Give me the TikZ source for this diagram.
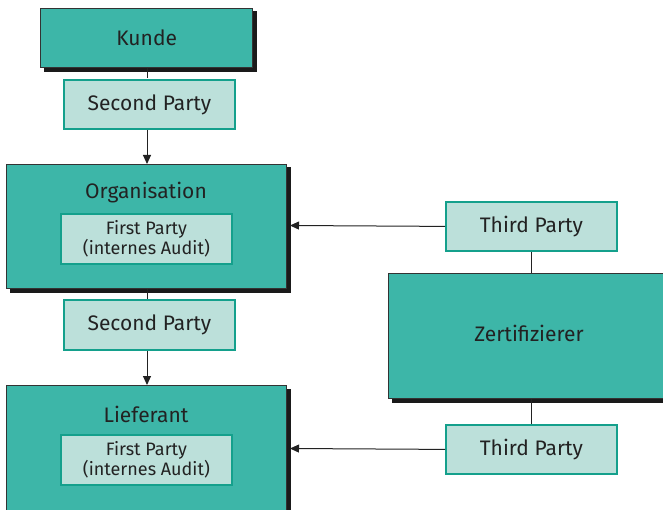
\documentclass[tikz,border=0pt]{standalone}
\usepackage{fontspec}
\setmainfont{Fira Sans}
\usetikzlibrary{backgrounds,arrows.meta}
\definecolor{teal1}{HTML}{3DB6A8}
\definecolor{lightbox}{HTML}{BCE0DA}
\definecolor{tealedge}{HTML}{14A08C}
\definecolor{darkedge}{HTML}{333333}
\definecolor{txt}{HTML}{222222}
\definecolor{shadowc}{HTML}{1A1A1A}
\tikzset{
  bigbox/.style={draw=darkedge, line width=1.3pt, fill=teal1, inner sep=0pt, anchor=north west},
  smallbox/.style={draw=tealedge, line width=1.8pt, fill=lightbox, inner sep=0pt, anchor=north west},
  lbl/.style={font=\fontsize{21}{24}\selectfont, text=txt},
  slbl/.style={font=\fontsize{18}{20.5}\selectfont, text=txt, align=center},
  conn/.style={draw=txt, line width=1pt},
  arr/.style={conn, -{Triangle[length=9pt,width=8pt]}},
  shadowfill/.style={fill=shadowc}
}
\begin{document}
\begin{tikzpicture}[x=1pt,y=-1pt]
\clip (0,0) rectangle (663,510);
% big boxes
\node[bigbox, minimum width=212pt, minimum height=59pt] (kunde) at (40,8) {};
\node[lbl] at (kunde.center) {Kunde};
\node[bigbox, minimum width=280pt, minimum height=124pt] (org) at (6,164) {};
\node[lbl] at (146,193) {Organisation};
\node[bigbox, minimum width=280pt, minimum height=140pt] (lief) at (6,385) {};
\node[lbl] at (146,414) {Lieferant};
\node[bigbox, minimum width=290pt, minimum height=125pt] (zert) at (388,273) {};
\node[lbl] at (529,333) {Zertifizierer};
% shadows
\begin{scope}[on background layer]
\fill[white] (0,0) rectangle (663,510);
\foreach \b in {kunde,org,lief,zert}{
  \fill[shadowfill] ([shift={(3.5,3.5)}]\b.south west) rectangle ([shift={(3.5,3.5)}]\b.north east);
}
\end{scope}
% small boxes
\node[smallbox, minimum width=171pt, minimum height=49pt] (sp1) at (63,79) {};
\node[lbl] at (sp1.center) {Second Party};
\node[smallbox, minimum width=171pt, minimum height=50pt] (fp1) at (60,213) {};
\node[slbl] at (fp1.center) {First Party\\(internes Audit)};
\node[smallbox, minimum width=171pt, minimum height=50pt] (sp2) at (63,299) {};
\node[lbl] at (sp2.center) {Second Party};
\node[smallbox, minimum width=171pt, minimum height=50pt] (fp2) at (60,434) {};
\node[slbl] at (fp2.center) {First Party\\(internes Audit)};
\node[smallbox, minimum width=171pt, minimum height=49pt] (tp1) at (445,201) {};
\node[lbl] at (tp1.center) {Third Party};
\node[smallbox, minimum width=171pt, minimum height=49pt] (tp2) at (445,424) {};
\node[lbl] at (tp2.center) {Third Party};
% connectors
\coordinate (kb) at (147,67.6);
\coordinate (sp1t) at (147,78);
\draw[conn] (kb) -- (sp1t);
\draw[arr] (sp1.south -| kb) -- (org.north -| kb);
\draw[conn] (org.south -| kb) -- (sp2.north -| kb);
\draw[arr] (sp2.south -| kb) -- (lief.north -| kb);
\draw[arr] (tp1.west) -- (290,225.5);
\draw[arr] (tp2.west) -- (290,448.5);
\draw[conn] (tp1.south) -- (tp1.south |- zert.north);
\draw[conn] (tp2.north) -- (tp2.north |- zert.south);
\end{tikzpicture}
\end{document}
